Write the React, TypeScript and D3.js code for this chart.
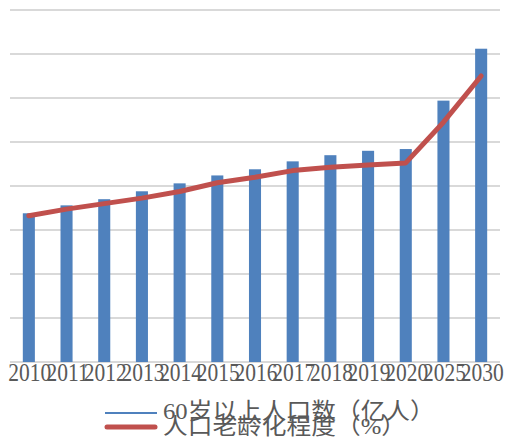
import React from "react";
import * as d3 from "d3";

// Years on the category axis
const years = ["2010", "2011", "2012", "2013", "2014", "2015", "2016", "2017", "2018", "2019", "2020", "2025", "2030"];
// Population aged 60+ (hundred millions)
const elderly = [1.69, 1.78, 1.85, 1.94, 2.03, 2.12, 2.19, 2.28, 2.35, 2.4, 2.42, 2.97, 3.56];
// Ageing ratio (%)
const ageingRate = [13.3, 13.9, 14.4, 14.9, 15.5, 16.3, 16.8, 17.4, 17.7, 17.9, 18.1, 21.8, 26.0];
// Hidden value axes
const primaryTicks = [0, 0.5, 1, 1.5, 2, 2.5, 3, 3.5, 4];
const secondaryMax = 32;

const seriesNames = ["60岁以上人口数（亿人）", "人口老龄化程度（%）"];

const W = 507;
const H = 441;
const left = 10;
const right = 500;
const top = 10;
const bottom = 362;

export default function App() {
  const x = d3.scaleBand<string>().domain(years).range([left, right]).paddingInner(0.68).paddingOuter(0.34);
  const y = d3.scaleLinear().domain([0, 4]).range([bottom, top]);
  const y2 = d3.scaleLinear().domain([0, secondaryMax]).range([bottom, top]);

  const line = d3
    .line<number>()
    .x((_, i) => (x(years[i]) as number) + x.bandwidth() / 2)
    .y((d) => y2(d));

  const textColor = "#595959";
  const font = "'Liberation Serif', 'Noto Sans CJK SC', serif";

  return (
    <svg width={W} height={H} style={{ position: "absolute", left: 0, top: 0, background: "#fff" }}>
      {primaryTicks.map((t) => (
        <line key={t} x1={left} x2={right} y1={y(t)} y2={y(t)} stroke="#d9d9d9" strokeWidth={2} />
      ))}
      {elderly.map((v, i) => (
        <rect
          key={years[i]}
          x={x(years[i])}
          y={y(v)}
          width={x.bandwidth()}
          height={bottom - y(v)}
          fill="#4f81bd"
        />
      ))}
      <path
        d={line(ageingRate) as string}
        fill="none"
        stroke="#c0504d"
        strokeWidth={5}
        strokeLinecap="round"
        strokeLinejoin="round"
      />
      {years.map((yr) => (
        <text
          key={yr}
          transform={`translate(${(x(yr) as number) + x.bandwidth() / 2 + 1},381) scale(1,1.2)`}
          textAnchor="middle"
          fontFamily={font}
          fontSize={21.5}
          fill={textColor}
        >
          {yr}
        </text>
      ))}
      <g>
        <line x1={105} x2={157} y1={413} y2={413} stroke="#4f81bd" strokeWidth={2} />
        <text transform="translate(163,419) scale(1.03,0.95)" fontFamily={font} fontSize={24} fill={textColor}>
          {seriesNames[0]}
        </text>
        <line x1={107} x2={155} y1={427} y2={427} stroke="#c0504d" strokeWidth={5} strokeLinecap="round" />
        <text transform="translate(163,434) scale(1.03,0.95)" fontFamily={font} fontSize={24} fill={textColor}>
          {seriesNames[1]}
        </text>
      </g>
    </svg>
  );
}
